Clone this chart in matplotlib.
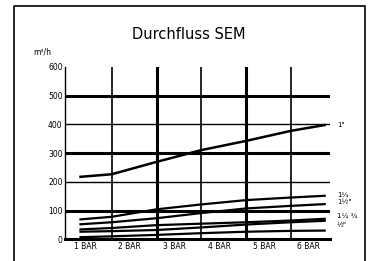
import matplotlib
matplotlib.use("Agg")
import matplotlib.pyplot as plt
from matplotlib.lines import Line2D

title = "Durchfluss SEM"
unit_label = "m³/h"
x_labels = ["1 BAR", "2 BAR", "3 BAR", "4 BAR", "5 BAR", "6 BAR"]
x_label_pos = [1, 2, 3, 4, 5, 6]
y_ticks = [0, 100, 200, 300, 400, 500, 600]

pressure = [0.9, 1.6, 2.6, 3.6, 4.6, 5.6, 6.35]
flow_1 = [218, 227, 270, 311, 343, 378, 398]
flow_1q = [70, 79, 105, 122, 137, 146, 152]
flow_1h = [53, 60, 74, 92, 108, 117, 123]
flow_3q_a = [35, 40, 50, 55, 60, 66, 72]
flow_3q_b = [27, 29, 33, 42, 52, 60, 65]
flow_half = [8, 11, 16, 22, 27, 30, 31]

series_labels = ['1"', '1¼', '1½"', '1¼ ¾', '½"']

fig = plt.figure(figsize=(3.70, 2.61), dpi=100)
ax = fig.add_axes([0.177, 0.0824, 0.715, 0.661])
ax.set_xlim(0.565, 6.47)
ax.set_ylim(0, 600)

# grid
vgrid = [1.6, 2.6, 3.6, 4.6, 5.6]
vlw = [1.2, 2.2, 1.2, 2.2, 1.2]
for x, lw in zip(vgrid, vlw):
    ax.axvline(x, color="black", lw=lw, zorder=1)
hgrid = [100, 200, 300, 400, 500]
hlw = [2.2, 1.0, 2.2, 1.0, 2.2]
for y, lw in zip(hgrid, hlw):
    ax.axhline(y, color="black", lw=lw, zorder=1)

for s in ["top", "right"]:
    ax.spines[s].set_visible(False)
ax.spines["left"].set_linewidth(1.0)
ax.spines["bottom"].set_linewidth(2.2)

# data lines
ax.plot(pressure, flow_1, color="black", lw=1.8, zorder=3)
for ys in [flow_1q, flow_1h, flow_3q_a, flow_3q_b, flow_half]:
    ax.plot(pressure, ys, color="black", lw=1.6, zorder=3)

ax.set_xticks(x_label_pos)
ax.set_xticklabels(x_labels, fontsize=5.5)
ax.set_yticks(y_ticks)
ax.set_yticklabels([str(v) for v in y_ticks], fontsize=5.5)
ax.tick_params(axis="both", length=0, pad=2)

# series labels at right
label_y = [398, 157, 130, 82, 48]
for txt, yv in zip(series_labels, label_y):
    ax.text(6.62, yv, txt, fontsize=5, ha="left", va="center", clip_on=False)

fig.text(0.511, 0.866, title, ha="center", va="center", fontsize=10.5)
fig.text(0.115, 0.80, unit_label, ha="center", va="center", fontsize=5.5)

# outer frame (left, top, right)
fig.add_artist(Line2D([14/370, 14/370, 365/370, 365/370], [0, 1 - 6/261, 1 - 6/261, 0],
                      transform=fig.transFigure, color="black", lw=1.2))

fig.savefig("out.png", dpi=100)
